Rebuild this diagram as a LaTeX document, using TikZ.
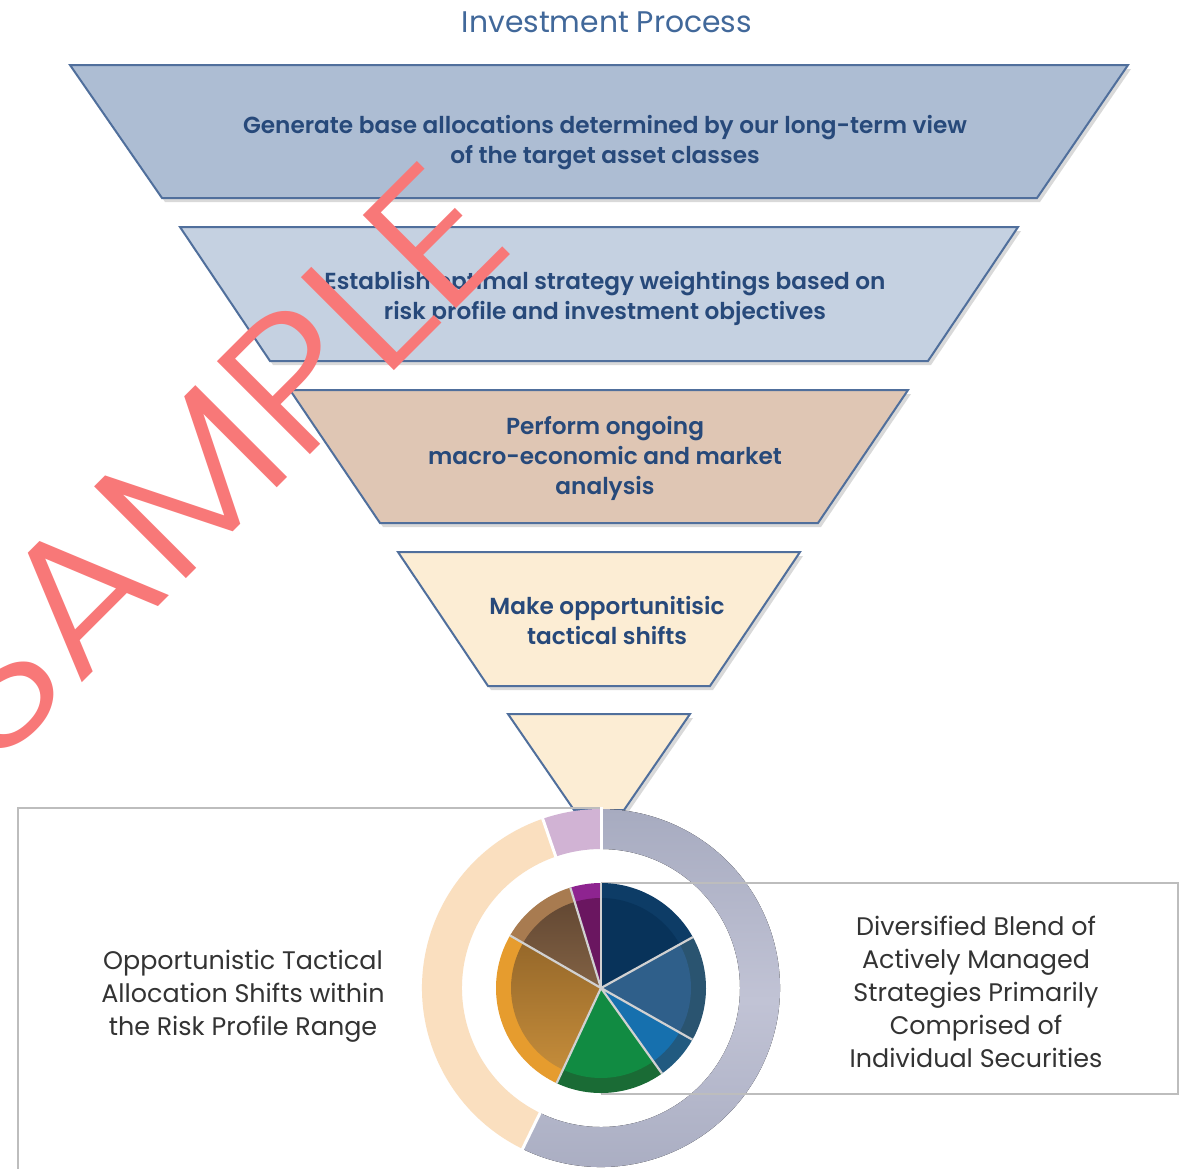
\documentclass[tikz,border=0pt]{standalone}
\usepackage{graphicx}
\usepackage{fontspec}
\setmainfont{Poppins}[BoldFont={Poppins SemiBold}]
\newfontfamily\stampfont{Poppins Light}
\usetikzlibrary{shadows}

\definecolor{edgeblue}{HTML}{506F9C}
\definecolor{inktext}{HTML}{27497A}
\definecolor{titleblue}{HTML}{41689A}
\definecolor{levelA}{HTML}{ADBDD3}
\definecolor{levelB}{HTML}{C5D1E1}
\definecolor{levelC}{HTML}{DFC6B4}
\definecolor{levelD}{HTML}{FCEDD4}
\definecolor{boxline}{HTML}{BDBDBD}
\definecolor{ringgray}{HTML}{A7ABC0}
\definecolor{ringlight}{HTML}{C1C3D5}
\definecolor{ringpeach}{HTML}{FADFBF}
\definecolor{ringlilac}{HTML}{D1B3D4}
\definecolor{bodytext}{HTML}{333333}
\definecolor{stamp}{HTML}{F87878}
% pie slices: rim colour / face colour
\definecolor{navyR}{HTML}{0D3C66}\definecolor{navyF}{HTML}{08335A}
\definecolor{steelR}{HTML}{2A5470}\definecolor{steelF}{HTML}{2F5F8A}
\definecolor{azureR}{HTML}{215A80}\definecolor{azureF}{HTML}{1670AE}
\definecolor{greenR}{HTML}{1A6B35}\definecolor{greenF}{HTML}{118B42}
\definecolor{goldR}{HTML}{E69C2E}\definecolor{goldFa}{HTML}{96682A}\definecolor{goldFb}{HTML}{C48C3A}
\definecolor{brownR}{HTML}{A87B50}\definecolor{brownFa}{HTML}{634833}\definecolor{brownFb}{HTML}{826244}
\definecolor{plumR}{HTML}{8E2490}\definecolor{plumF}{HTML}{6A1660}

\tikzset{
  funnel/.style={draw=edgeblue, line width=2pt, line join=miter,
    drop shadow={shadow xshift=3pt, shadow yshift=-4pt, opacity=0.15, fill=black}},
  steptext/.style={align=center, text=inktext, inner sep=0pt,
    font=\fontsize{23.2}{30}\selectfont\bfseries},
  plaintext/.style={align=center, text=bodytext, inner sep=0pt,
    font=\fontsize{25.4}{33}\selectfont},
  slicesep/.style={draw=boxline!70!white, line width=2.2pt},
  ringsep/.style={draw=white, line width=3pt},
}
% a pie wedge from angle #1 to #2 with radius #3
\newcommand{\wedgepath}[3]{(0,0) -- (#1:#3) arc[start angle=#1, end angle=#2, radius=#3] -- cycle}

\begin{document}
\begin{tikzpicture}[x=1pt,y=-1pt]
\useasboundingbox (0,0) rectangle (1180,1168);
\fill[white] (0,0) rectangle (1180,1168);

% title
\node[text=titleblue, font=\fontsize{29.8}{30}\selectfont, inner sep=0pt] (title) at (607,22) {Investment Process};

% funnel levels
\path[funnel, fill=levelA] (70,65) -- (1128,65) -- (1037,198) -- (162,198) -- cycle;
\path[funnel, fill=levelB] (180,227) -- (1018,227) -- (928,361) -- (270,361) -- cycle;
\path[funnel, fill=levelC] (290,390) -- (908,390) -- (818,523) -- (380,523) -- cycle;
\path[funnel, fill=levelD] (398,552) -- (800,552) -- (710,686) -- (488,686) -- cycle;
\path[funnel, fill=levelD] (508,714) -- (690,714) -- (624,810) -- (574,810) -- cycle;

\node[steptext] (s1) at (605,143) {Generate base allocations determined by our long-term view\\of the target asset classes};
\node[steptext] (s2) at (605,298) {Establish optimal strategy weightings based on\\risk profile and investment objectives};
\node[steptext] (s3) at (605,458) {Perform ongoing\\macro-economic and market\\analysis};
\node[steptext] (s4) at (607,620) {Make opportunitisic\\tactical shifts};

% frame on the left
\draw[boxline, line width=2pt] (601,808) -- (18,808) -- (18,1172);

% outer ring
\begin{scope}[shift={(601,988)}, yscale=-1]
  \fill[top color=ringgray, bottom color=ringgray, middle color=ringlight]
    (-116:179) arc[start angle=-116, end angle=90, radius=179]
    -- (90:139) arc[start angle=90, end angle=-116, radius=139] -- cycle;
  \fill[ringpeach]
    (109:179) arc[start angle=109, end angle=244, radius=179]
    -- (244:139) arc[start angle=244, end angle=109, radius=139] -- cycle;
  \fill[ringlilac]
    (90:179) arc[start angle=90, end angle=109, radius=179]
    -- (109:139) arc[start angle=109, end angle=90, radius=139] -- cycle;
  \foreach \a in {90,109,244} \draw[ringsep] (\a:137) -- (\a:181);
\end{scope}

% frame on the right
\draw[boxline, line width=2pt] (601,883) -- (1178,883) -- (1178,1094) -- (601,1094);

% inner pie
\begin{scope}[shift={(601,988)}, yscale=-1]
  % rims
  \fill[navyR]  \wedgepath{29}{90}{105};
  \fill[steelR] \wedgepath{-29.5}{29}{105};
  \fill[azureR] \wedgepath{-54.5}{-29.5}{105};
  \fill[greenR] \wedgepath{-115}{-54.5}{105};
  \fill[goldR]  \wedgepath{150}{245}{105};
  \fill[brownR] \wedgepath{107}{150}{105};
  \fill[plumR]  \wedgepath{90}{107}{105};
  % faces
  \fill[navyF]  \wedgepath{29}{90}{90};
  \fill[steelF] \wedgepath{-29.5}{29}{90};
  \fill[azureF] \wedgepath{-54.5}{-29.5}{90};
  \fill[greenF] \wedgepath{-115}{-54.5}{90};
  \shade[top color=goldFa, bottom color=goldFb] \wedgepath{150}{245}{90};
  \shade[top color=brownFa, bottom color=brownFb] \wedgepath{107}{150}{90};
  \fill[plumF]  \wedgepath{90}{107}{90};
  % separators
  \foreach \a in {90,29,-29.5,-54.5,-115,150,107}
    \draw[slicesep] (0,0) -- (\a:105);
\end{scope}

% captions beside the pie
\node[plaintext] (left) at (243,996) {Opportunistic Tactical\\Allocation Shifts within\\the Risk Profile Range};
\node[plaintext] (right) at (976,992) {Diversified Blend of\\Actively Managed\\Strategies Primarily\\Comprised of\\Individual Securities};

% stamp across the funnel
\node[text=stamp, rotate=45, inner sep=0pt, anchor=base] (stampword) at (256,509)
  {\resizebox{745pt}{133pt}{\stampfont\fontsize{190}{190}\selectfont SAMPLE}};
\end{tikzpicture}
\end{document}
